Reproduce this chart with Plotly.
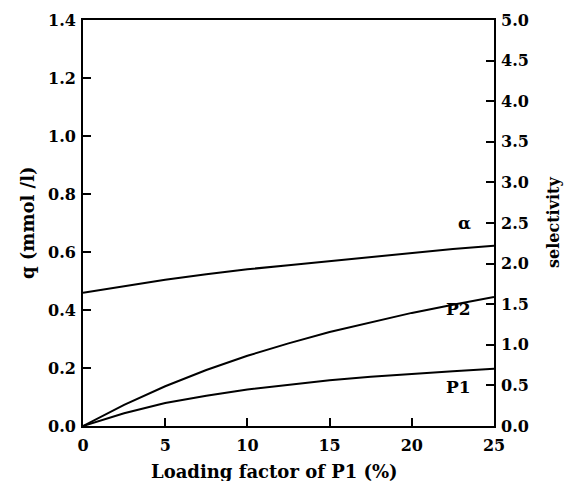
import plotly.graph_objects as go

# Loading factor of P1 (%)
loading = [0, 2.5, 5, 7.5, 10, 12.5, 15, 17.5, 20, 22.5, 25]
# q (mmol/l) of P1 and P2
q_p1 = [0.0, 0.044, 0.079, 0.104, 0.126, 0.143, 0.158, 0.170, 0.180, 0.189, 0.197]
q_p2 = [0.0, 0.073, 0.137, 0.193, 0.242, 0.285, 0.324, 0.358, 0.390, 0.418, 0.445]
# selectivity alpha
alpha = [1.64, 1.72, 1.80, 1.87, 1.93, 1.98, 2.03, 2.08, 2.13, 2.18, 2.22]

x_ticks = [0, 5, 10, 15, 20, 25]
y_ticks = [0.0, 0.2, 0.4, 0.6, 0.8, 1.0, 1.2, 1.4]
y2_ticks = [0.0, 0.5, 1.0, 1.5, 2.0, 2.5, 3.0, 3.5, 4.0, 4.5, 5.0]

labels = ["α", "P2", "P1"]
label_x = [23.7, 23.7, 23.7]
label_y2 = [2.5, 1.44, 0.48]

FONT = "DejaVu Serif"
line = dict(color="black", width=2)

fig = go.Figure()
fig.add_trace(go.Scatter(x=loading, y=q_p1, mode="lines", line=line, showlegend=False))
fig.add_trace(go.Scatter(x=loading, y=q_p2, mode="lines", line=line, showlegend=False))
fig.add_trace(go.Scatter(x=loading, y=alpha, mode="lines", line=line, yaxis="y2", showlegend=False))

for t, lx, ly in zip(labels, label_x, label_y2):
    fig.add_annotation(x=lx, y=ly, xref="x", yref="y2", text=t, showarrow=False,
                       xanchor="right", yanchor="middle",
                       font=dict(family=FONT, size=17, color="black", weight="bold"))

title_font = dict(family=FONT, size=17, color="black", weight="bold")
fig.add_annotation(x=0.467, y=0, xref="paper", yref="paper", yshift=-45,
                   text="Loading factor of P1 (%)", showarrow=False,
                   xanchor="center", yanchor="middle", font=dict(title_font, size=18))
fig.add_annotation(x=0, y=0.5, xref="paper", yref="paper", xshift=-56,
                   text="q (mmol /l)", showarrow=False, textangle=-90,
                   xanchor="center", yanchor="middle", font=dict(title_font, size=18))
fig.add_annotation(x=1, y=0.5, xref="paper", yref="paper", xshift=59,
                   text="selectivity", showarrow=False, textangle=-90,
                   xanchor="center", yanchor="middle", font=dict(title_font, size=16))

axis_common = dict(showline=True, linecolor="black", linewidth=1.8, ticks="inside",
                   ticklen=8, tickwidth=1.5, tickcolor="black", showgrid=False,
                   zeroline=False,
                   tickfont=dict(family=FONT, size=16, color="black", weight="bold"))

fig.update_layout(
    width=568, height=481,
    margin=dict(l=83, r=74, t=20, b=55),
    paper_bgcolor="white", plot_bgcolor="white",
    xaxis=dict(range=[0, 25], tickvals=x_ticks, mirror=True, ticklabelstandoff=4,
               **axis_common),
    yaxis=dict(range=[0, 1.4], tickvals=y_ticks, tickformat=".1f", ticklabelstandoff=2,
               **axis_common),
    yaxis2=dict(range=[0, 5], tickvals=y2_ticks, tickformat=".1f", overlaying="y",
                side="right", ticklabelstandoff=2, **axis_common),
)

fig.write_html("out.html")
